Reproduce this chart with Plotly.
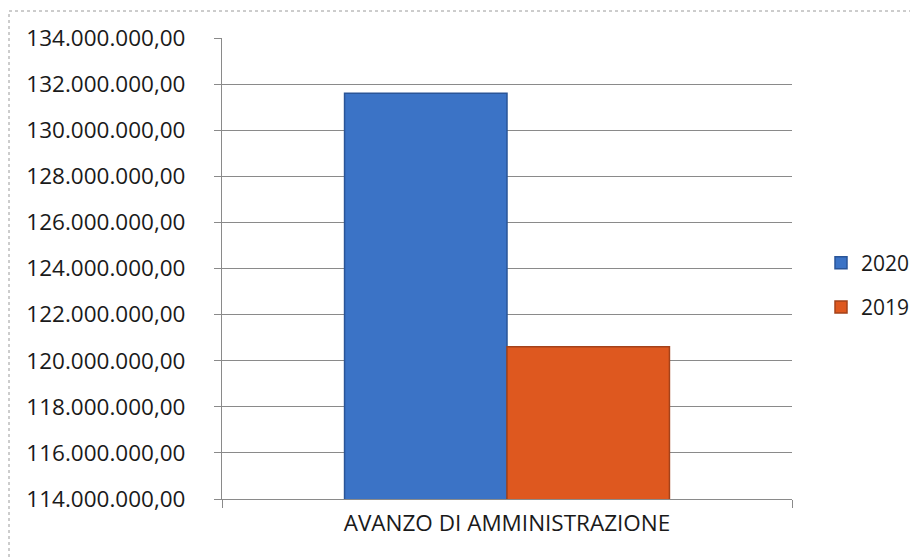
import plotly.graph_objects as go

categories = ["AVANZO DI AMMINISTRAZIONE"]
series_names = ["2020", "2019"]
values_2020 = [131600000]
values_2019 = [120600000]
tick_values = [114e6, 116e6, 118e6, 120e6, 122e6, 124e6, 126e6, 128e6, 130e6, 132e6, 134e6]
tick_labels = ["114.000.000,00", "116.000.000,00", "118.000.000,00", "120.000.000,00",
               "122.000.000,00", "124.000.000,00", "126.000.000,00", "128.000.000,00",
               "130.000.000,00", "132.000.000,00", "134.000.000,00"]

FONT = "Open Sans"
fig = go.Figure()
fig.add_trace(go.Bar(x=categories, y=values_2020, name=series_names[0], legendgroup="a",
                     marker=dict(color="#3b73c6", line=dict(color="#2a5598", width=1.5))))
fig.add_trace(go.Bar(x=categories, y=values_2019, name=series_names[1], legendgroup="b",
                     marker=dict(color="#de581f", line=dict(color="#a4421a", width=1.5))))

# page body has an 8px margin; work in page pixels and shift
OFF = 8
W, H = 918 - OFF, 557 - OFF
L, T = 222 - OFF, 38 - OFF
R = W - (792 - OFF)
B = H - (499 - OFF)
pw, ph = W - L - R, H - T - B

def px_x(x):
    return (x - OFF - L) / pw

def px_y(y):
    return (H - B - (y - OFF)) / ph

fig.update_layout(
    width=W, height=H,
    margin=dict(l=L, r=R, t=T, b=B, autoexpand=False),
    paper_bgcolor="white", plot_bgcolor="white",
    barmode="group", bargap=0.43, bargroupgap=0,
    font=dict(family=FONT, size=22, color="#1a1a1a"),
    legend=dict(x=px_x(821), y=px_y(285), xanchor="left", yanchor="middle",
                font=dict(size=21), traceorder="grouped", tracegroupgap=14, itemwidth=30,
                borderwidth=0, bgcolor="rgba(0,0,0,0)"),
    xaxis=dict(showgrid=False, showline=True, linecolor="#8a8a8a", linewidth=1,
               ticks="outside", tickson="boundaries", ticklen=8, tickcolor="#8a8a8a",
               tickfont=dict(size=22.5), ticklabelstandoff=4, automargin=False),
    yaxis=dict(range=[114e6, 134e6], tickvals=tick_values, ticktext=tick_labels,
               showgrid=True, gridcolor="#8a8a8a", gridwidth=1,
               showline=True, linecolor="#8a8a8a", linewidth=1,
               ticks="outside", ticklen=7, tickcolor="#8a8a8a",
               tickfont=dict(size=22.5),
               ticklabelstandoff=24, zeroline=False, automargin=False),
    shapes=[dict(type="rect", xref="paper", yref="paper",
                 x0=px_x(9), x1=px_x(916),
                 y0=px_y(570), y1=px_y(11),
                 line=dict(color="#9a9a9a", width=1, dash="dot"), layer="below")],
)
fig.write_html("out.html")
